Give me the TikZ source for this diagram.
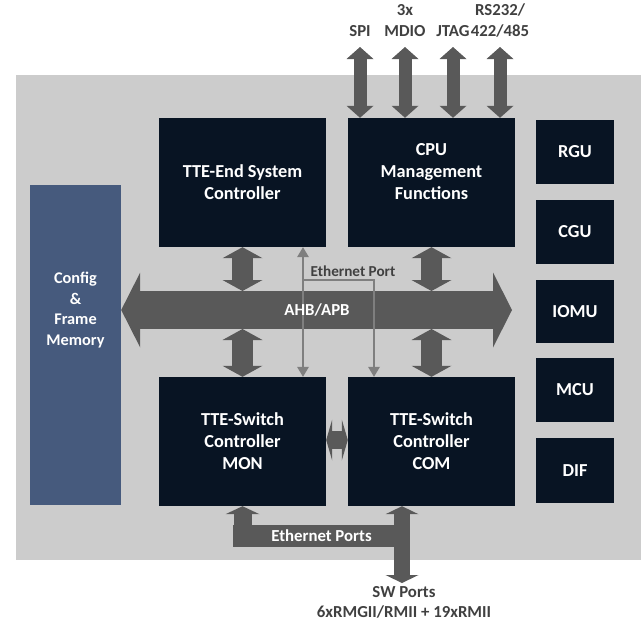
\documentclass[tikz,border=0pt]{standalone}
\usepackage{fontspec}
\setmainfont{Carlito}
\usetikzlibrary{arrows.meta}
\definecolor{bggray}{HTML}{CCCCCC}
\definecolor{blkc}{HTML}{081423}
\definecolor{cfgc}{HTML}{465A7D}
\definecolor{arrc}{HTML}{595959}
\definecolor{thinc}{HTML}{7F7F7F}
\definecolor{txtc}{HTML}{404040}
\tikzset{
  bigfont/.style={font=\bfseries\fontsize{16.8}{21.5}\selectfont},
  blockfont/.style={font=\bfseries\fontsize{18.3}{22}\selectfont},
  block/.style={fill=blkc, draw=none, text=white, blockfont, align=center, inner sep=0pt},
  cfgblock/.style={fill=cfgc, draw=none, inner sep=0pt},
  wlabel/.style={text=white, blockfont, align=center, inner sep=0pt},
  cfglabel/.style={text=white, font=\bfseries\fontsize{16.3}{20.5}\selectfont, align=center, inner sep=0pt},
  dlabel/.style={text=txtc, bigfont, align=center, inner sep=0pt},
  busarrow/.style={draw=arrc, line width=38pt, {Triangle[width=75pt,length=19pt,line width=0pt]}-{Triangle[width=75pt,length=19pt,line width=0pt]}},
  midarrow/.style={draw=arrc, line width=21pt, {Triangle[width=40pt,length=11pt,line width=0pt]}-{Triangle[width=40pt,length=11pt,line width=0pt]}},
  toparrow/.style={draw=arrc, line width=13pt, {Triangle[width=27pt,length=12pt,line width=0pt]}-{Triangle[width=27pt,length=12pt,line width=0pt]}},
  sidearrow/.style={draw=arrc, line width=18pt, {Triangle[width=41pt,length=6pt,line width=0pt]}-{Triangle[width=41pt,length=6pt,line width=0pt]}},
  uparrow/.style={draw=arrc, line width=18pt, -{Triangle[width=34pt,length=8pt,line width=0pt]}},
  swarrow/.style={draw=arrc, line width=16pt, {Triangle[width=33pt,length=8pt,line width=0pt]}-{Triangle[width=33pt,length=8pt,line width=0pt]}},
  thinline/.style={draw=thinc, line width=2.5pt},
}
\begin{document}
\begin{tikzpicture}[x=1pt,y=-1pt]
\useasboundingbox (0,0) rectangle (643,622);
\fill[bggray] (16,75) rectangle (641,560);

% blocks
\node[block, minimum width=167pt, minimum height=129pt] (es) at (242.5,182.5) {TTE-End System\\Controller};
\node[block, minimum width=167pt, minimum height=129pt] (cpu) at (431.5,182.5) {};
\node[wlabel] (cputxt) at (431.5,172) {CPU\\Management\\Functions};
\node[block, minimum width=167pt, minimum height=129pt] (mon) at (242.5,441.5) {TTE-Switch\\Controller\\MON};
\node[block, minimum width=167pt, minimum height=129pt] (com) at (431.5,441.5) {TTE-Switch\\Controller\\COM};
\node[cfgblock, minimum width=91pt, minimum height=320pt] (cfg) at (75.5,345) {};
\node[cfglabel] (cfgtxt) at (75.5,310) {Config\\\&\\Frame\\Memory};

\node[block, minimum width=78pt, minimum height=64pt] (rgu) at (575,152) {RGU};
\node[block, minimum width=78pt, minimum height=64pt] (cgu) at (575,232) {CGU};
\node[block, minimum width=78pt, minimum height=63pt] (iomu) at (575,311.5) {IOMU};
\node[block, minimum width=78pt, minimum height=64pt] (mcu) at (575,390) {MCU};
\node[block, minimum width=78pt, minimum height=65pt] (dif) at (575,470.5) {DIF};

% top interface labels and arrows
\node[dlabel] (spi) at (360,31) {SPI};
\node[dlabel] (mdio) at (405,20.5) {3x\\MDIO};
\node[dlabel] (jtag) at (453,31) {JTAG};
\node[dlabel] (rs) at (500,20.5) {RS232/\\422/485};
\coordinate (spiT) at (360,47);
\coordinate (mdioT) at (405,47);
\coordinate (jtagT) at (453,47);
\coordinate (rsT) at (500,47);
\draw[toparrow] (spiT) -- (spiT |- cpu.north);
\draw[toparrow] (mdioT) -- (mdioT |- cpu.north);
\draw[toparrow] (jtagT) -- (jtagT |- cpu.north);
\draw[toparrow] (rsT) -- (rsT |- cpu.north);

% bus
\coordinate (busR) at (512,310);
\coordinate (busTop) at (316,291);
\coordinate (busBot) at (316,329);
\draw[busarrow] (cfg.east |- busR) -- (busR);
\draw[midarrow] (es.south) -- (es.south |- busTop);
\draw[midarrow] (cpu.south) -- (cpu.south |- busTop);
\draw[midarrow] (es.south |- busBot) -- (mon.north);
\draw[midarrow] (cpu.south |- busBot) -- (com.north);

% ethernet port thin lines
\coordinate (ep1) at (303,280);
\coordinate (ep2) at (374,280);
\draw[thinline, {Triangle[width=12pt,length=10pt,line width=0pt]}-{Triangle[width=12pt,length=10pt,line width=0pt]}] (ep1 |- es.south) -- (ep1 |- mon.north);
\draw[thinline, -{Triangle[width=12pt,length=10pt,line width=0pt]}] (ep1) -- (ep2) -- (ep2 |- com.north);
\node[text=txtc, font=\bfseries\fontsize{15.2}{18}\selectfont, inner sep=0pt] (eplabel) at (353,271) {Ethernet Port};
\node[text=white, bigfont, inner sep=0pt] (bus) at (317,309.5) {AHB/APB};

% MON <-> COM
\coordinate (hm) at (337,440);
\draw[sidearrow] (mon.east |- hm) -- (com.west |- hm);

% bottom ethernet ports
\node[fill=arrc, text=white, bigfont, minimum width=177pt, minimum height=22pt, inner sep=0pt] (eth) at (321.5,536) {Ethernet Ports};
\draw[uparrow] (mon.south |- eth.south) -- (mon.south);
\coordinate (sw) at (402,583);
\draw[swarrow] (sw |- com.south) -- (sw);
\node[text=txtc, font=\bfseries\fontsize{16.8}{20}\selectfont, align=center, inner sep=0pt] (swtxt) at (404,602.5) {SW Ports\\6xRMGII/RMII + 19xRMII};
\end{tikzpicture}
\end{document}
